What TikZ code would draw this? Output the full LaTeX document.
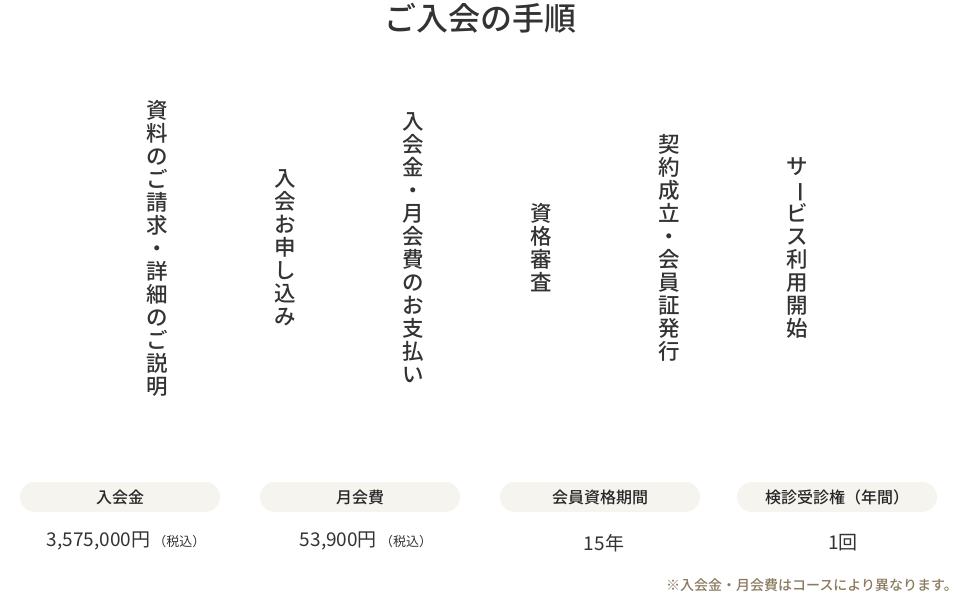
\documentclass[tikz,border=0pt]{standalone}
\usepackage{fontspec}
\setmainfont{Noto Sans CJK JP}
\newfontfamily\cjkm{Noto Sans CJK JP Medium}
\begin{document}
\begin{tikzpicture}[x=1pt,y=-1pt,
  vtext/.style={font=\cjkm\fontsize{21.5}{23}\selectfont\color{black!80}, align=center, inner sep=0pt},
  pill/.style={fill=pillc, rounded corners=15pt, minimum width=200pt, minimum height=30pt, inner sep=0pt, font=\cjkm\fontsize{16}{16}\selectfont, text=black!85},
  val/.style={font=\fontsize{19}{19}\selectfont, text=black!80, inner sep=0pt}]
\definecolor{pillc}{HTML}{F5F4EF}
\definecolor{notec}{HTML}{8A7A5E}
\useasboundingbox (0,0) rectangle (959,592);
\node[font=\cjkm\fontsize{32}{32}\selectfont, text=black!80] (title) at (480,18) {ご入会の手順};
\node[vtext] (s1) at (157,248) {資\\料\\の\\ご\\請\\求\\・\\詳\\細\\の\\ご\\説\\明};
\node[vtext] (s2) at (285,248) {入\\会\\お\\申\\し\\込\\み};
\node[vtext] (s3) at (413,248) {入\\会\\金\\・\\月\\会\\費\\の\\お\\支\\払\\い};
\node[vtext] (s4) at (541,248) {資\\格\\審\\査};
\node[vtext] (s5) at (669,248) {契\\約\\成\\立\\・\\会\\員\\証\\発\\行};
\node[vtext] (s6) at (797,248) {サ\\\rotatebox[origin=c]{-90}{ー}\\ビ\\ス\\利\\用\\開\\始};
\node[pill] (p1) at (120,497) {入会金};
\node[pill] (p2) at (360,497) {月会費};
\node[pill] (p3) at (600,497) {会員資格期間};
\node[pill] (p4) at (837,497) {検診受診権（年間）};
\node[val] (v1) at (126,541) {3,575,000円\,{\fontsize{13}{13}\selectfont（税込）}};
\node[val] (v2) at (366,541) {53,900円\,{\fontsize{13}{13}\selectfont（税込）}};
\node[val] (v3) at (604,543) {15年};
\node[val] (v4) at (843,543) {1回};
\node[anchor=east, font=\cjkm\fontsize{14}{14}\selectfont, text=notec, inner sep=0pt] (note) at (958,585) {※入会金・月会費はコースにより異なります。};
\end{tikzpicture}
\end{document}
